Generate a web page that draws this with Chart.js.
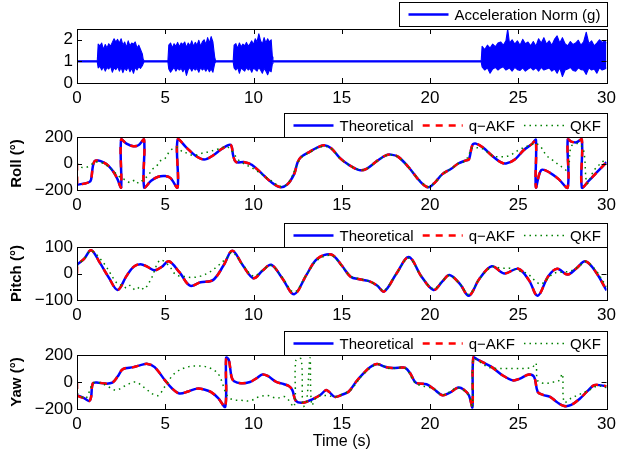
<!DOCTYPE html>
<html><head><meta charset="utf-8">
<script src="https://cdn.jsdelivr.net/npm/chart.js@4.4.1/dist/chart.umd.min.js"></script>
<style>
html,body{margin:0;padding:0;background:#fff;}
#wrap{position:relative;width:621px;height:455px;background:#fff;}
canvas{position:absolute;left:0;top:0;}
</style></head><body>
<div id="wrap">
<canvas id="c1" width="621" height="455"></canvas>
<canvas id="c2" width="621" height="455"></canvas>
<canvas id="c3" width="621" height="455"></canvas>
<canvas id="c4" width="621" height="455"></canvas>
</div>
<script>
// ---------- tick labels ----------
const xTicks = [0,5,10,15,20,25,30];
const accTicks = [0,1,2];
const rollTicks = [-200,0,200];
const pitchTicks = [-100,0,100];
const yawTicks = [-200,0,200];

// ---------- acceleration norm (upper / lower envelope of the signal) ----------
const accT  = [0,1.15,1.2,1.3,1.4,1.5,1.6,1.7,1.8,1.9,2.0,2.1,2.2,2.3,2.4,2.5,2.6,2.7,2.8,2.9,3.0,3.1,3.2,3.3,3.4,3.5,3.6,3.7,3.75,3.8,
  5.15,5.2,5.3,5.4,5.5,5.6,5.7,5.8,5.9,6.0,6.1,6.2,6.3,6.4,6.5,6.6,6.7,6.8,6.9,7.0,7.1,7.2,7.3,7.4,7.5,7.6,7.7,7.8,7.85,
  8.85,8.9,9.0,9.1,9.2,9.3,9.4,9.5,9.6,9.7,9.8,9.9,10.0,10.1,10.2,10.3,10.4,10.5,10.6,10.7,10.8,10.9,11.0,11.07,11.1,
  22.9,22.95,23.1,23.25,23.4,23.55,23.7,23.85,24.0,24.15,24.3,24.4,24.5,24.65,24.8,24.95,25.1,25.25,25.4,25.55,25.7,25.85,26.0,
  26.15,26.3,26.45,26.6,26.75,26.9,27.05,27.2,27.35,27.5,27.65,27.8,27.95,28.1,28.25,28.4,28.55,28.7,28.85,29.0,29.15,29.3,29.45,29.6,29.75,29.9,30];
const accHi = [1.03,1.03,1.8,1.72,1.85,1.55,1.78,1.62,1.82,1.7,1.88,2.05,1.9,2.02,1.85,2.05,1.75,1.9,1.65,1.95,1.72,1.85,1.8,1.9,1.62,1.75,1.55,1.35,1.1,1.03,
  1.03,1.75,1.85,1.62,1.82,1.7,1.88,1.68,1.85,1.78,1.9,1.65,1.85,1.72,1.95,1.7,1.88,1.75,1.98,1.7,1.9,2.0,1.78,2.1,1.85,2.15,1.9,1.2,1.03,
  1.03,1.75,1.82,1.6,1.85,1.68,1.8,1.72,1.88,1.7,1.82,1.95,1.78,2.05,1.9,2.28,1.95,1.8,2.1,1.85,2.05,1.9,2.0,1.2,1.03,
  1.03,1.7,1.55,1.75,1.62,1.8,1.68,1.85,1.9,1.75,1.95,2.5,1.85,2.0,1.8,1.95,1.75,2.02,1.82,1.9,1.72,1.92,1.7,
  2.05,1.85,2.1,1.8,1.95,1.75,2.02,2.18,1.85,2.1,1.82,1.72,1.92,1.78,1.85,1.98,1.75,1.9,2.35,1.82,1.95,1.72,1.85,2.0,1.88,1.95,1.85];
const accLo = [0.97,0.97,0.7,0.78,0.6,0.75,0.55,0.72,0.65,0.78,0.5,0.7,0.62,0.76,0.55,0.72,0.48,0.7,0.58,0.75,0.52,0.68,0.45,0.72,0.6,0.75,0.68,0.8,0.9,0.97,
  0.97,0.65,0.5,0.62,0.72,0.55,0.7,0.6,0.68,0.52,0.7,0.35,0.62,0.72,0.55,0.7,0.6,0.68,0.5,0.72,0.6,0.68,0.55,0.7,0.52,0.65,0.5,0.9,0.97,
  0.97,0.7,0.6,0.72,0.45,0.7,0.62,0.55,0.72,0.6,0.68,0.5,0.7,0.62,0.55,0.72,0.6,0.45,0.68,0.55,0.38,0.6,0.52,0.9,0.97,
  0.97,0.75,0.6,0.7,0.45,0.65,0.72,0.6,0.7,0.75,0.6,0.65,0.7,0.55,0.72,0.62,0.58,0.7,0.55,0.65,0.72,0.6,0.7,
  0.55,0.72,0.6,0.65,0.7,0.55,0.65,0.45,0.7,0.3,0.6,0.65,0.72,0.58,0.55,0.7,0.62,0.6,0.4,0.7,0.6,0.65,0.45,0.7,0.6,0.65,0.7];

// ---------- Roll (deg) ----------
const rollTheoT = [0,0.4,0.7,0.8,0.9,1.0,1.2,1.5,1.8,2.1,2.3,2.5,2.5,2.8,3.2,3.5,3.8,3.8,4.2,4.6,5.0,5.3,5.7,5.7,6.2,6.7,7.2,7.7,8.2,8.7,8.85,9.0,9.5,9.9,10.5,11.0,11.5,11.9,12.3,12.5,12.7,13.2,13.6,14.0,14.4,14.9,15.4,16.0,16.4,17.0,17.5,17.8,18.2,18.8,19.4,19.9,20.3,20.7,21.2,21.6,22.0,22.2,22.4,22.6,23.0,23.5,24.0,24.3,24.8,25.3,25.8,26.0,26.0,26.3,26.8,27.3,27.8,27.8,28.0,28.3,28.6,28.6,29.0,29.5,30];
const rollTheoV = [-160,-152,-140,-120,-20,18,22,8,-20,-70,-120,-180,180,150,130,140,180,-180,-130,-100,-95,-110,-180,180,120,60,30,60,110,140,60,12,10,-10,-80,-140,-178,-160,-80,10,50,90,120,137,115,40,-10,-50,-40,20,62,67,50,-30,-130,-180,-140,-80,-40,0,22,30,140,150,120,60,10,0,30,100,150,178,-180,-50,-70,-120,-180,180,165,160,180,-180,-130,-60,10];
const rollAkfT = [0,0.02,0.4,0.7,0.8,0.9,1.0,1.2,1.5,1.8,2.1,2.3,2.5,2.5,2.8,3.2,3.5,3.8,3.8,4.2,4.6,5.0,5.3,5.7,5.7,6.2,6.7,7.2,7.7,8.2,8.7,8.85,9.0,9.5,9.9,10.5,11.0,11.5,11.9,12.3,12.5,12.7,13.2,13.6,14.0,14.4,14.9,15.4,16.0,16.4,17.0,17.5,17.8,18.2,18.8,19.4,19.9,20.3,20.7,21.2,21.6,22.0,22.2,22.4,22.6,23.0,23.5,24.0,24.3,24.8,25.3,25.8,26.0,26.0,26.3,26.8,27.3,27.8,27.8,28.0,28.3,28.6,28.6,29.0,29.5,30];
const rollAkfV = [0,-160,-152,-140,-120,-20,18,22,8,-20,-70,-120,-180,180,150,130,140,180,-180,-130,-100,-95,-110,-180,180,120,60,30,60,110,140,60,12,10,-10,-80,-140,-178,-160,-80,10,50,90,120,137,115,40,-10,-50,-40,20,62,67,50,-30,-130,-180,-140,-80,-40,0,22,30,140,150,120,60,10,0,30,100,150,178,-180,-50,-70,-120,-180,180,165,160,180,-180,-130,-60,10];
const rollQkfT = [0,0.3,0.7,1.0,1.5,2.0,2.5,2.8,3.0,3.3,3.5,3.8,4.0,4.3,4.5,4.8,5.0,5.3,5.7,6.0,6.2,6.6,7.0,7.5,8.0,8.5,8.8,9.2,10.0,11.0,11.6,12.0,12.5,12.7,13.2,13.6,14.0,14.4,14.9,15.4,16.0,16.4,17.0,17.5,17.8,18.2,18.8,19.4,19.9,20.3,20.7,21.2,21.6,22.0,22.4,22.6,23.0,23.5,24.0,24.5,25.0,25.5,26.0,26.3,26.6,27.0,27.4,27.8,28.0,28.4,28.7,28.9,29.3,30];
const rollQkfV = [0,-30,-20,10,0,-50,-110,-125,-145,-125,-150,-115,-95,-40,-20,30,40,100,120,85,80,60,75,90,110,125,90,20,-40,-130,-175,-140,0,45,85,115,130,112,40,-10,-48,-40,18,60,65,48,-30,-125,-175,-140,-80,-40,0,20,120,120,110,60,50,60,100,130,150,120,60,20,-20,-50,130,150,100,-150,-50,40];

// ---------- Pitch (deg) ----------
const pitchTheoT = [0,0.4,0.8,1.3,1.8,2.3,2.8,3.2,3.6,4.0,4.4,4.8,5.2,5.8,6.4,7.0,7.7,8.3,8.8,9.4,10.0,10.5,11.0,11.6,12.3,13.0,13.6,14.4,15.0,15.5,16.0,16.5,17.0,17.4,18.1,18.8,19.5,20.2,20.7,21.1,21.7,22.2,22.8,23.5,24.2,25.0,25.6,26.1,26.7,27.2,27.8,28.3,28.8,29.4,30];
const pitchTheoV = [33,55,88,40,-15,-62,-10,25,35,25,12,25,46,5,-46,-33,-25,30,86,30,-18,10,33,-15,-78,-5,55,72,30,-12,-22,-28,-45,-68,0,62,-10,-62,-30,-6,-40,-84,-20,27,0,18,-25,-84,-10,18,-4,20,46,5,-64];
const pitchAkfT = [0,0.02,0.4,0.8,1.3,1.8,2.3,2.8,3.2,3.6,4.0,4.4,4.8,5.2,5.8,6.4,7.0,7.7,8.3,8.8,9.4,10.0,10.5,11.0,11.6,12.3,13.0,13.6,14.4,15.0,15.5,16.0,16.5,17.0,17.4,18.1,18.8,19.5,20.2,20.7,21.1,21.7,22.2,22.8,23.5,24.2,25.0,25.6,26.1,26.7,27.2,27.8,28.3,28.8,29.4,30];
const pitchAkfV = [0,33,55,88,40,-15,-62,-10,25,35,25,12,25,46,5,-46,-33,-25,30,86,30,-18,10,33,-15,-78,-5,55,72,30,-12,-22,-28,-45,-68,0,62,-10,-62,-30,-6,-40,-84,-20,27,0,18,-25,-84,-10,18,-4,20,46,5,-64];
const pitchQkfT = [0,0.4,0.8,1.5,2.3,2.6,2.8,3.0,3.3,3.6,3.8,4.2,4.7,5.2,5.6,6.0,6.5,7.0,7.5,8.0,8.5,8.8,9.4,10.0,10.5,11.0,11.6,12.3,13.0,13.6,14.4,15.0,15.5,16.0,16.5,17.0,17.4,18.1,18.8,19.5,20.2,20.7,21.1,21.7,22.2,22.8,23.5,24.0,24.5,25.0,25.5,26.0,26.3,27.0,27.5,28.0,28.5,28.8,29.3,30];
const pitchQkfV = [30,55,85,40,-40,-45,-55,-45,-62,-50,-60,-20,50,30,-5,-10,-15,-10,5,30,60,80,32,-10,12,30,-12,-70,-5,50,68,28,-10,-20,-28,-45,-64,0,58,-10,-58,-28,-8,-40,-78,-20,25,20,20,10,0,-30,-40,0,5,10,30,45,20,-50];

// ---------- Yaw (deg) ----------
const yawTheoT = [0,0.4,0.7,0.8,0.9,1.2,1.6,2.0,2.3,2.6,3.2,3.6,4.0,4.4,5.0,5.4,5.8,6.3,6.8,7.2,7.6,8.0,8.4,8.45,8.6,8.75,8.9,9.3,9.8,10.2,10.5,10.8,11.3,11.7,12.0,12.2,12.4,12.8,13.3,13.8,14.1,14.3,14.6,15.0,15.4,15.8,16.2,16.6,17.0,17.4,17.7,18.2,18.6,18.9,19.2,19.8,20.2,20.7,21.1,21.6,21.9,22.2,22.4,22.45,22.7,23.0,23.5,24.1,24.7,25.1,25.6,25.9,26.1,26.4,26.8,27.2,27.6,28.0,28.5,28.9,29.3,29.7,30];
const yawTheoV = [-98,-120,-140,-110,-10,-5,-12,-5,40,95,110,125,134,110,10,-50,-85,-70,-49,-55,-75,-120,-183,180,165,40,5,-10,0,30,55,45,0,-15,-30,-60,-140,-154,-130,-95,-60,-75,-110,-95,-70,0,60,110,134,115,105,105,105,60,-5,-17,-50,-98,-80,-41,-55,-98,-188,180,165,145,110,50,12,25,56,37,-73,-95,-110,-150,-178,-170,-122,-70,-24,-25,-32];
const yawAkfT = [0,0.02,0.4,0.7,0.8,0.9,1.2,1.6,2.0,2.3,2.6,3.2,3.6,4.0,4.4,5.0,5.4,5.8,6.3,6.8,7.2,7.6,8.0,8.4,8.45,8.6,8.75,8.9,9.3,9.8,10.2,10.5,10.8,11.3,11.7,12.0,12.2,12.4,12.8,13.3,13.8,14.1,14.3,14.6,15.0,15.4,15.8,16.2,16.6,17.0,17.4,17.7,18.2,18.6,18.9,19.2,19.8,20.2,20.7,21.1,21.6,21.9,22.2,22.4,22.45,22.7,23.0,23.5,24.1,24.7,25.1,25.6,25.9,26.1,26.4,26.8,27.2,27.6,28.0,28.5,28.9,29.3,29.7,30];
const yawAkfV = [0,-98,-120,-140,-110,-10,-5,-12,-5,40,95,110,125,134,110,10,-50,-85,-70,-49,-55,-75,-120,-183,180,165,40,5,-10,0,30,55,45,0,-15,-30,-60,-140,-154,-130,-95,-60,-75,-110,-95,-70,0,60,110,134,115,105,105,105,60,-5,-17,-50,-98,-80,-41,-55,-98,-188,180,165,145,110,50,12,25,56,37,-73,-95,-110,-150,-178,-170,-122,-70,-24,-25,-32];
const yawQkfT = [0,0.5,0.9,1.3,1.7,2.2,2.7,3.3,3.8,4.3,4.6,5.0,5.5,6.2,6.8,7.4,8.0,8.5,8.8,9.3,9.8,10.3,10.8,11.3,11.8,12.3,12.4,12.7,12.8,13.0,13.2,13.3,13.6,14.2,14.6,15.0,15.5,16.2,17.0,17.7,18.6,19.2,20.2,20.7,21.6,22.2,22.4,22.45,22.8,23.3,23.8,24.3,24.8,25.3,25.8,26.0,26.1,26.5,27.0,27.3,27.5,27.6,28.0,28.5,29.0,29.5,30];
const yawQkfV = [-85,-120,-10,-5,-30,-60,-30,0,-40,-90,-100,-30,60,110,118,110,60,-100,-130,-135,-140,-110,-100,-120,-110,-180,160,170,-180,-150,180,-170,-110,-100,-110,-90,-60,55,130,100,100,-10,-50,-95,-45,-100,-190,170,150,110,100,100,100,100,110,140,10,-10,0,10,60,-150,-120,-90,-60,-30,-40];

// ---------- helpers ----------
const FONT = "'Liberation Sans', Arial, Helvetica, sans-serif";
const BLUE = '#0000ff', RED = '#ff0000', GREEN = '#008000';
const pts = (ts, vs) => ts.map((t, i) => ({x: t, y: vs[i]}));
const minus = v => String(v).replace('-', '\u2212');

const framePlugin = {
  id: 'frame',
  afterDatasetsDraw(chart) {
    const {ctx, chartArea: a, scales} = chart;
    ctx.save();
    ctx.strokeStyle = '#000'; ctx.lineWidth = 1;
    ctx.beginPath();
    const L = 5;
    scales.x.ticks.forEach(t => {
      const px = Math.round(scales.x.getPixelForValue(t.value)) + 0.5;
      ctx.moveTo(px, a.bottom); ctx.lineTo(px, a.bottom - L);
      ctx.moveTo(px, a.top); ctx.lineTo(px, a.top + L);
    });
    scales.y.ticks.forEach(t => {
      const py = Math.round(scales.y.getPixelForValue(t.value)) + 0.5;
      ctx.moveTo(a.left, py); ctx.lineTo(a.left + L, py);
      ctx.moveTo(a.right, py); ctx.lineTo(a.right - L, py);
    });
    ctx.stroke();
    ctx.strokeRect(Math.round(a.left) + 0.5, Math.round(a.top) + 0.5, Math.round(a.right - a.left), Math.round(a.bottom - a.top));
    ctx.restore();
  }
};

const boxLegend = {
  id: 'boxLegend',
  afterDraw(chart, args, opts) {
    const {ctx, chartArea: a} = chart;
    const items = chart.data.datasets.filter(d => d.label);
    ctx.save();
    ctx.font = '15px ' + FONT;
    const padL = 9, sample = 40, gap = 6, inter = 9, padR = 7, h = 24;
    let w = padL + padR;
    items.forEach((d, i) => { w += sample + gap + ctx.measureText(d.label).width + (i ? inter : 0); });
    const right = Math.round(a.right) + 0.5;
    const bottom = Math.round(a.top) - (opts.gap || 0) + 0.5;
    const left = right - Math.round(w), top = bottom - h;
    ctx.fillStyle = '#fff';
    ctx.fillRect(left, top, right - left, h);
    ctx.strokeStyle = '#000'; ctx.lineWidth = 1;
    ctx.strokeRect(left, top, right - left, h);
    let x = left + padL;
    const cy = top + h / 2;
    items.forEach((d, i) => {
      if (i) x += inter;
      ctx.beginPath();
      ctx.strokeStyle = d.borderColor;
      ctx.lineWidth = d.legendWidth || d.borderWidth;
      ctx.setLineDash(d.borderDash || []);
      ctx.moveTo(x, cy); ctx.lineTo(x + sample, cy);
      ctx.stroke();
      ctx.setLineDash([]);
      x += sample + gap;
      ctx.fillStyle = '#000';
      ctx.textBaseline = 'middle';
      ctx.fillText(d.label, x, cy + 1);
      x += ctx.measureText(d.label).width;
    });
    ctx.restore();
  }
};

function makeChart(id, datasets, cfg) {
  return new Chart(document.getElementById(id), {
    type: 'line',
    data: {datasets},
    plugins: [framePlugin, boxLegend],
    options: {
      responsive: false,
      animation: false,
      events: [],
      elements: {point: {radius: 0}, line: {tension: 0.35, borderCapStyle: 'butt', borderJoinStyle: 'round'}},
      layout: {padding: {left: 0, right: 11, top: cfg.top, bottom: 455 - cfg.bottom - cfg.xh}},
      plugins: {legend: {display: false}, tooltip: {enabled: false}, boxLegend: {gap: cfg.legendGap || 0}},
      scales: {
        x: {
          type: 'linear', min: 0, max: 30,
          afterBuildTicks: s => { s.ticks = xTicks.map(v => ({value: v})); },
          afterFit: s => { s.height = cfg.xh; },
          grid: {display: false, drawTicks: false},
          border: {display: false},
          ticks: {color: '#000', font: {family: FONT, size: 17}, padding: 5, maxRotation: 0, autoSkip: false},
          title: cfg.xTitle ? {display: true, text: cfg.xTitle, color: '#000', font: {family: FONT, size: 16}, padding: {top: 0, bottom: 4}} : {display: false}
        },
        y: {
          type: 'linear', min: cfg.ymin, max: cfg.ymax,
          afterBuildTicks: s => { s.ticks = cfg.yTicks.map(v => ({value: v})); },
          afterFit: s => { s.width = 77; },
          grid: {display: false, drawTicks: false},
          border: {display: false},
          ticks: {color: '#000', font: {family: FONT, size: 17}, padding: 4, callback: v => minus(v)},
          title: cfg.yTitle ? {display: true, text: cfg.yTitle, color: '#000', font: {family: FONT, size: 15, weight: 'bold'}, padding: {top: 8, bottom: 0}} : {display: false}
        }
      }
    }
  });
}

// dataset order: lower "order" is drawn on top (QKF on top, then q-AKF, then theoretical)
function angleSets(theoT, theoV, akfT, akfV, qkfT, qkfV) {
  return [
    {label: 'Theoretical', order: 3, data: pts(theoT, theoV), borderColor: BLUE, borderWidth: 2.5, fill: false},
    {label: 'q\u2212AKF', order: 2, data: pts(akfT, akfV), borderColor: RED, borderWidth: 2.5, borderDash: [7, 6], fill: false},
    {label: 'QKF', order: 1, data: pts(qkfT, qkfV), borderColor: GREEN, borderWidth: 1.5, borderDash: [1.5, 4], fill: false}
  ];
}

makeChart('c1', [
  {label: 'Acceleration Norm (g)', data: pts(accT, accHi), borderColor: BLUE, backgroundColor: BLUE, borderWidth: 1.1, legendWidth: 2.5, tension: 0, fill: '+1'},
  {data: pts(accT, accLo), borderColor: BLUE, borderWidth: 1.1, tension: 0, fill: false}
], {top: 29, bottom: 83, xh: 26, ymin: 0, ymax: 2.5, yTicks: accTicks, legendGap: 3});

makeChart('c2', angleSets(rollTheoT, rollTheoV, rollAkfT, rollAkfV, rollQkfT, rollQkfV),
  {top: 137, bottom: 190, xh: 26, ymin: -200, ymax: 200, yTicks: rollTicks, yTitle: 'Roll (\u00B0)'});

makeChart('c3', angleSets(pitchTheoT, pitchTheoV, pitchAkfT, pitchAkfV, pitchQkfT, pitchQkfV),
  {top: 247, bottom: 300, xh: 26, ymin: -100, ymax: 100, yTicks: pitchTicks, yTitle: 'Pitch (\u00B0)'});

makeChart('c4', angleSets(yawTheoT, yawTheoV, yawAkfT, yawAkfV, yawQkfT, yawQkfV),
  {top: 355, bottom: 409, xh: 46, ymin: -200, ymax: 200, yTicks: yawTicks, yTitle: 'Yaw (\u00B0)', xTitle: 'Time (s)'});
</script>
</body></html>
